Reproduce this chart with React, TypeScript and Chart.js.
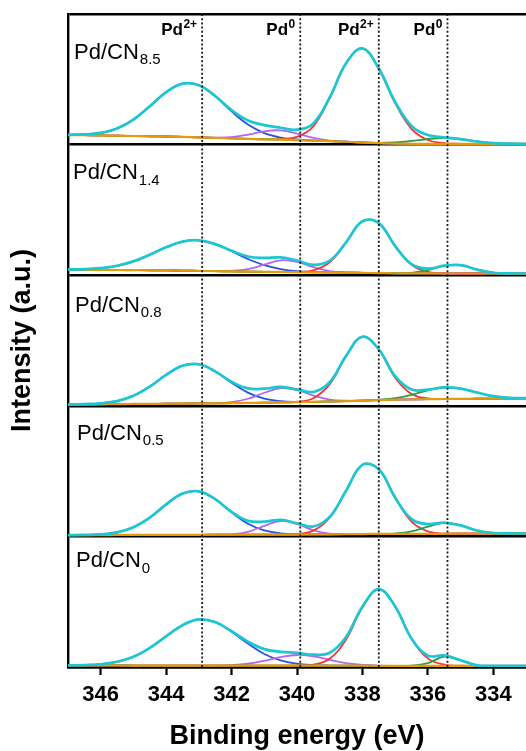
import React, { useEffect, useRef } from 'react';
import { Chart, registerables } from 'chart.js';

Chart.register(...registerables);

const FONT = '"Liberation Sans", Arial, Helvetica, sans-serif';

// Binding energy grid (eV), high to low
const bindingEnergy = [347, 346.5, 346, 345.5, 345, 344.5, 344, 343.5, 343, 342.5, 342, 341.5, 341, 340.5, 340, 339.5, 339, 338.5, 338, 337.5, 337, 336.5, 336, 335.5, 335, 334.5, 334, 333.5, 333];
const energyTicks = [346, 344, 342, 340, 338, 336, 334];

// Reference (dotted) lines and their labels
const referenceEnergies = [342.9, 339.9, 337.5, 335.4];
const referenceLabel = ['Pd', 'Pd', 'Pd', 'Pd'];
const referenceSup = ['2+', '0', '2+', '0'];

// Sample names (top to bottom)
const sampleSubscripts = ['8.5', '1.4', '0.8', '0.5', '0'];

// ---- Pd/CN8.5 ----
const cn85Background = [7.4, 7.2, 7.0, 6.8, 6.6, 6.4, 6.2, 5.9, 5.5, 5.1, 4.7, 4.4, 4.1, 3.8, 3.4, 3.0, 2.6, 2.2, 1.6, 1.1, 0.8, 0.6, 0.5, 0.5, 0.5, 0.5, 0.5, 0.5, 0.5];
const cn85Pd2Plus32 = [0.1, 0.6, 2.0, 5.6, 12.6, 22.9, 33.9, 40.8, 40.0, 31.9, 20.7, 10.9, 4.7, 1.6, 0.5, 0.1, 0, 0, 0, 0, 0, 0, 0, 0, 0, 0, 0, 0, 0];
const cn85Pd0_32 = [0, 0, 0, 0, 0, 0, 0, 0, 0, 0.2, 1.0, 3.2, 6.1, 7.1, 5.0, 2.1, 0.5, 0.1, 0, 0, 0, 0, 0, 0, 0, 0, 0, 0, 0];
const cn85Pd2Plus52 = [0, 0, 0, 0, 0, 0, 0, 0, 0, 0, 0, 0, 0, 0.4, 2.5, 11, 33, 60, 72, 57, 31, 11.5, 3, 0.6, 0.1, 0, 0, 0, 0];
const cn85Pd0_52 = [0, 0, 0, 0, 0, 0, 0, 0, 0, 0, 0, 0, 0, 0, 0, 0, 0, 0, 0, 0.2, 0.9, 2.2, 3.8, 4.5, 3.6, 1.9, 0.7, 0.2, 0];

// ---- Pd/CN1.4 ----
const cn14Background = [4.3, 4.2, 4.1, 4.0, 3.9, 3.8, 3.7, 3.5, 3.3, 3.1, 2.9, 2.7, 2.6, 2.5, 2.3, 2.2, 2.1, 2.0, 1.8, 1.6, 1.5, 1.4, 1.4, 1.3, 1.3, 1.3, 1.3, 1.3, 1.3];
const cn14Pd2Plus32 = [0.1, 0.4, 1.3, 3.2, 6.7, 11.9, 17.7, 22.2, 23.4, 20.7, 15.4, 9.7, 5.1, 2.2, 0.8, 0.3, 0.1, 0, 0, 0, 0, 0, 0, 0, 0, 0, 0, 0, 0];
const cn14Pd0_32 = [0, 0, 0, 0, 0, 0, 0, 0, 0, 0, 0.4, 1.9, 5.5, 8.9, 7.9, 3.9, 1.1, 0.2, 0, 0, 0, 0, 0, 0, 0, 0, 0, 0, 0];
const cn14Pd2Plus52 = [0, 0, 0, 0, 0, 0, 0, 0, 0, 0, 0, 0, 0, 0, 0.2, 1.5, 7.8, 23.0, 39.5, 38.3, 20.8, 6.6, 1.2, 0.1, 0, 0, 0, 0, 0];
const cn14Pd0_52 = [0, 0, 0, 0, 0, 0, 0, 0, 0, 0, 0, 0, 0, 0, 0, 0, 0, 0, 0, 0, 0, 0.4, 2.4, 5.9, 6.4, 3.0, 0.6, 0.1, 0];

// ---- Pd/CN0.8 ----
const cn08Background = [1.0, 1.1, 1.2, 1.3, 1.4, 1.5, 1.6, 1.7, 1.8, 1.9, 2.0, 2.2, 2.4, 2.6, 2.8, 3.0, 3.3, 3.6, 4.0, 4.4, 4.7, 4.9, 5.1, 5.2, 5.3, 5.4, 5.5, 5.6, 5.7];
const cn08Pd2Plus32 = [0, 0.2, 0.7, 2.3, 6.3, 13.2, 22.1, 29.0, 30.0, 24.4, 15.6, 7.9, 3.1, 1.0, 0.2, 0, 0, 0, 0, 0, 0, 0, 0, 0, 0, 0, 0, 0, 0];
const cn08Pd0_32 = [0, 0, 0, 0, 0, 0, 0, 0, 0, 0.1, 0.8, 3.2, 7.6, 10.9, 9.3, 4.8, 1.5, 0.3, 0, 0, 0, 0, 0, 0, 0, 0, 0, 0, 0];
const cn08Pd2Plus52 = [0, 0, 0, 0, 0, 0, 0, 0, 0, 0, 0, 0, 0, 0, 0.3, 2.8, 13.3, 34.3, 48.9, 38.6, 16.8, 4.1, 0.5, 0, 0, 0, 0, 0, 0];
const cn08Pd0_52 = [0, 0, 0, 0, 0, 0, 0, 0, 0, 0, 0, 0, 0, 0, 0, 0, 0, 0, 0, 0.3, 1.2, 3.5, 6.8, 8.9, 7.9, 4.8, 1.9, 0.5, 0.1];

// ---- Pd/CN0.5 ----
const cn05Background = [1.0, 1.0, 1.0, 1.1, 1.1, 1.1, 1.2, 1.2, 1.2, 1.3, 1.3, 1.3, 1.4, 1.4, 1.4, 1.5, 1.6, 1.7, 1.8, 1.9, 1.9, 2.0, 2.0, 2.0, 2.1, 2.1, 2.1, 2.2, 2.2];
const cn05Pd2Plus32 = [0, 0.1, 0.5, 2.0, 5.9, 13.3, 23.3, 31.6, 33.3, 27.2, 17.1, 8.4, 3.2, 0.9, 0.2, 0, 0, 0, 0, 0, 0, 0, 0, 0, 0, 0, 0, 0, 0];
const cn05Pd0_32 = [0, 0, 0, 0, 0, 0, 0, 0, 0, 0, 0.3, 2.2, 6.7, 10.4, 8.1, 3.2, 0.6, 0.1, 0, 0, 0, 0, 0, 0, 0, 0, 0, 0, 0];
const cn05Pd2Plus52 = [0, 0, 0, 0, 0, 0, 0, 0, 0, 0, 0, 0, 0, 0, 0.4, 2.9, 12.7, 33.2, 53.0, 49.5, 27.6, 9.4, 1.9, 0.2, 0, 0, 0, 0, 0];
const cn05Pd0_52 = [0, 0, 0, 0, 0, 0, 0, 0, 0, 0, 0, 0, 0, 0, 0, 0, 0, 0, 0, 0, 0.3, 1.8, 5.5, 8.4, 6.3, 2.4, 0.5, 0.1, 0];

// ---- Pd/CN0 ----
const cn0Background = [1.2, 1.2, 1.2, 1.2, 1.1, 1.1, 1.1, 1.1, 1.1, 1.0, 1.0, 1.0, 1.0, 1.0, 1.0, 1.0, 1.0, 1.0, 1.0, 0.9, 0.9, 0.9, 0.9, 0.9, 0.9, 0.9, 0.9, 0.9, 0.9];
const cn0Pd2Plus32 = [0.1, 0.3, 0.9, 2.8, 6.7, 13.5, 22.4, 30.9, 35.3, 33.3, 26.0, 16.9, 9.0, 4.0, 1.5, 0.5, 0.1, 0, 0, 0, 0, 0, 0, 0, 0, 0, 0, 0, 0];
const cn0Pd0_32 = [0, 0, 0, 0, 0, 0, 0, 0, 0, 0.1, 0.4, 1.5, 3.7, 6.6, 8.2, 7.1, 4.5, 1.9, 0.6, 0.1, 0, 0, 0, 0, 0, 0, 0, 0, 0];
const cn0Pd2Plus52 = [0, 0, 0, 0, 0, 0, 0, 0, 0, 0, 0, 0, 0, 0, 0.1, 0.8, 5.3, 20.1, 44.6, 58.6, 45.5, 20.9, 5.7, 0.9, 0.1, 0, 0, 0, 0];
const cn0Pd0_52 = [0, 0, 0, 0, 0, 0, 0, 0, 0, 0, 0, 0, 0, 0, 0, 0, 0, 0, 0, 0, 0, 0.1, 2.1, 7.1, 4.2, 0.4, 0, 0, 0];

const panelBackground = [cn85Background, cn14Background, cn08Background, cn05Background, cn0Background];
const panelPd2Plus32 = [cn85Pd2Plus32, cn14Pd2Plus32, cn08Pd2Plus32, cn05Pd2Plus32, cn0Pd2Plus32];
const panelPd0_32 = [cn85Pd0_32, cn14Pd0_32, cn08Pd0_32, cn05Pd0_32, cn0Pd0_32];
const panelPd2Plus52 = [cn85Pd2Plus52, cn14Pd2Plus52, cn08Pd2Plus52, cn05Pd2Plus52, cn0Pd2Plus52];
const panelPd0_52 = [cn85Pd0_52, cn14Pd0_52, cn08Pd0_52, cn05Pd0_52, cn0Pd0_52];

const PANEL_SPAN = 100;
const NUM_PANELS = 5;

// label layout (pixel offsets, not data)
const labelDx = [6, 5, 7, 9, 8];
const labelDy = [44.7, 34.7, 36.5, 34.2, 30.9];

const COLORS = {
  envelope: '#1cc6d2',
  blue: '#2a52dc',
  purple: '#b366ee',
  red: '#f53535',
  green: '#2e9b4b',
  orange: '#e39b0c',
};

function buildDatasets() {
  const sets: any[] = [];
  referenceEnergies.forEach((e) => {
    sets.push({
      data: [{ x: e, y: 0 }, { x: e, y: PANEL_SPAN * NUM_PANELS }],
      borderColor: '#1a1a1a',
      borderWidth: 1.8,
      borderDash: [2, 2.2],
      pointRadius: 0,
      tension: 0,
    });
  });
  const line = (color: string, width: number, values: number[], offset: number) => ({
    data: bindingEnergy.map((e, i) => ({ x: e, y: offset + values[i] })),
    borderColor: color,
    borderWidth: width,
    pointRadius: 0,
    tension: 0.4,
    fill: false,
  });
  const envelopes: any[] = [];
  const bgs: any[] = [];
  const greens: any[] = [];
  const reds: any[] = [];
  const purples: any[] = [];
  const blues: any[] = [];
  for (let p = 0; p < NUM_PANELS; p++) {
    const off = (NUM_PANELS - 1 - p) * PANEL_SPAN;
    const bg = panelBackground[p];
    const env = bg.map((b, i) => b + panelPd2Plus32[p][i] + panelPd0_32[p][i] + panelPd2Plus52[p][i] + panelPd0_52[p][i]);
    envelopes.push(line(COLORS.envelope, 2.7, env, off));
    bgs.push(line(COLORS.orange, 2.2, bg, off));
    greens.push(line(COLORS.green, 1.8, bg.map((b, i) => b + panelPd0_52[p][i]), off));
    reds.push(line(COLORS.red, 1.8, bg.map((b, i) => b + panelPd2Plus52[p][i]), off));
    purples.push(line(COLORS.purple, 1.8, bg.map((b, i) => b + panelPd0_32[p][i]), off));
    blues.push(line(COLORS.blue, 1.8, bg.map((b, i) => b + panelPd2Plus32[p][i]), off));
  }
  return [...sets, ...envelopes, ...bgs, ...greens, ...reds, ...purples, ...blues];
}

const labelPlugin = {
  id: 'xpsLabels',
  afterDraw(chart: any) {
    const { ctx, chartArea, scales } = chart;
    const x = scales.x;
    const y = scales.y;
    ctx.save();
    ctx.fillStyle = '#000';
    ctx.textBaseline = 'alphabetic';
    referenceEnergies.forEach((e, i) => {
      const px = x.getPixelForValue(e) - 5;
      const baseY = chartArea.top + 20.7;
      ctx.textAlign = 'right';
      ctx.font = `bold 12px ${FONT}`;
      const supW = ctx.measureText(referenceSup[i]).width;
      ctx.fillText(referenceSup[i], px, baseY - 6.4);
      ctx.font = `bold 17px ${FONT}`;
      ctx.fillText(referenceLabel[i], px - supW - 0.5, baseY);
    });
    sampleSubscripts.forEach((sub, p) => {
      const top = y.getPixelForValue((NUM_PANELS - p) * PANEL_SPAN);
      const lx = chartArea.left + labelDx[p];
      const by = top + labelDy[p];
      ctx.textAlign = 'left';
      ctx.font = `22px ${FONT}`;
      ctx.fillText('Pd/CN', lx, by);
      const w = ctx.measureText('Pd/CN').width;
      ctx.font = `15px ${FONT}`;
      ctx.fillText(sub, lx + w + 1, by + 5.3);
    });
    ctx.restore();
  },
};

export default function App() {
  const canvasRef = useRef<HTMLCanvasElement | null>(null);

  useEffect(() => {
    if (!canvasRef.current) return;
    Chart.defaults.font.family = FONT;
    const chart = new Chart(canvasRef.current, {
      type: 'line',
      data: { datasets: buildDatasets() },
      options: {
        animation: false,
        responsive: true,
        maintainAspectRatio: false,
        events: [],
        layout: { padding: { top: 14, left: 0, right: 0, bottom: 0 } },
        plugins: { legend: { display: false }, tooltip: { enabled: false } },
        scales: {
          x: {
            type: 'linear',
            min: 333,
            max: 347,
            reverse: true,
            afterBuildTicks: (s: any) => {
              s.ticks = energyTicks.map((v) => ({ value: v }));
            },
            afterFit: (s: any) => {
              s.height = 84;
            },
            ticks: {
              color: '#000',
              font: { size: 22, weight: 'bold' },
              padding: 7,
              maxRotation: 0,
              callback: (v: any) => String(v),
            },
            grid: {
              drawOnChartArea: false,
              drawTicks: true,
              tickLength: 8,
              tickWidth: 2.2,
              tickColor: '#000',
              color: '#000',
            },
            border: { display: true, color: '#000', width: 2.4 },
            title: {
              display: true,
              text: 'Binding energy (eV)',
              color: '#000',
              font: { size: 27, weight: 'bold', lineHeight: 1.1 },
              padding: { top: 0, bottom: 0 },
            },
          },
          y: {
            type: 'linear',
            min: 0,
            max: PANEL_SPAN * NUM_PANELS,
            ticks: { display: false, stepSize: PANEL_SPAN },
            grid: { color: '#000', lineWidth: 2.4, drawTicks: false },
            border: { display: true, color: '#000', width: 2.4 },
            afterFit: (s: any) => {
              s.width = 68;
            },
            title: {
              display: true,
              text: 'Intensity (a.u.)',
              color: '#000',
              font: { size: 27, weight: 'bold', lineHeight: 1.1 },
              padding: { top: 8, bottom: 0 },
            },
          },
        },
      } as any,
      plugins: [labelPlugin],
    });
    return () => chart.destroy();
  }, []);

  return (
    <div style={{ position: 'absolute', left: 0, top: 0, width: 526, height: 751, background: '#fff' }}>
      <canvas ref={canvasRef} />
    </div>
  );
}
